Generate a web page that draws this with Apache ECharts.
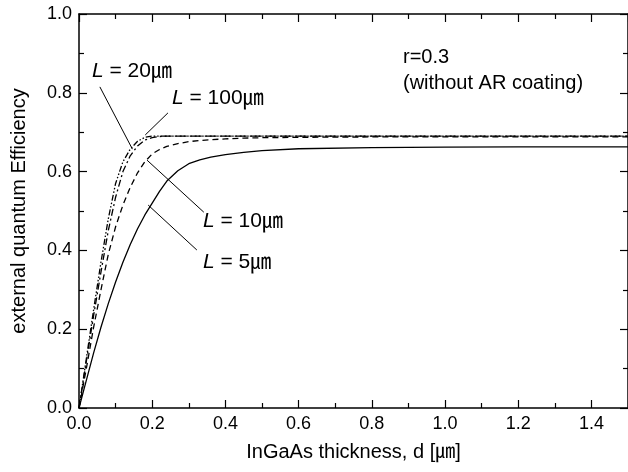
<!DOCTYPE html>
<html>
<head>
<meta charset="utf-8">
<script src="https://cdn.jsdelivr.net/npm/echarts@6/dist/echarts.min.js"></script>
<style>
  html, body { margin: 0; padding: 0; background: #fff; }
  #chart { width: 628px; height: 472px; }
</style>
</head>
<body>
<div id="chart"></div>
<script>
// InGaAs thickness [um]
var thickness = [0, 0.02, 0.04, 0.06, 0.08, 0.10, 0.12, 0.14, 0.16, 0.18, 0.20, 0.22, 0.24, 0.27, 0.30, 0.33, 0.36, 0.40, 0.45, 0.50, 0.60, 0.80, 1.00, 1.20, 1.50];
// external quantum efficiency for each diffusion length L
var effL5   = [0, 0.070, 0.140, 0.205, 0.265, 0.320, 0.370, 0.415, 0.455, 0.490, 0.520, 0.550, 0.576, 0.602, 0.620, 0.630, 0.637, 0.643, 0.649, 0.653, 0.658, 0.661, 0.662, 0.663, 0.663];
var effL10  = [0, 0.100, 0.205, 0.300, 0.390, 0.460, 0.515, 0.560, 0.597, 0.625, 0.645, 0.656, 0.664, 0.671, 0.676, 0.679, 0.681, 0.683, 0.685, 0.686, 0.687, 0.688, 0.688, 0.688, 0.688];
var effL20  = [0, 0.125, 0.250, 0.370, 0.480, 0.570, 0.625, 0.657, 0.677, 0.687, 0.690, 0.690, 0.690, 0.690, 0.690, 0.690, 0.690, 0.690, 0.690, 0.690, 0.690, 0.690, 0.690, 0.690, 0.690];
var effL100 = [0, 0.118, 0.235, 0.345, 0.450, 0.535, 0.600, 0.640, 0.665, 0.680, 0.686, 0.689, 0.690, 0.690, 0.690, 0.690, 0.690, 0.690, 0.690, 0.690, 0.690, 0.690, 0.690, 0.690, 0.690];

// arrows: [from, to] in data units
var arrowL20  = [[0.057, 0.815], [0.146, 0.657]];
var arrowL100 = [[0.243, 0.749], [0.181, 0.693]];
var arrowL10  = [[0.341, 0.497], [0.186, 0.629]];
var arrowL5   = [[0.322, 0.401], [0.189, 0.515]];

var FONT = "'Liberation Sans', Arial, 'Noto Sans CJK JP', sans-serif";

function pairs(xs, ys) {
  return xs.map(function (x, i) { return [x, ys[i]]; });
}

function curve(name, ys, dash) {
  return {
    name: name,
    type: "line",
    data: pairs(thickness, ys),
    showSymbol: false,
    lineStyle: { color: "#000", width: 1.3, type: dash },
    z: 3
  };
}

function arrow(a) {
  return [{ coord: a[0] }, { coord: a[1] }];
}

function label(txt, x, y) {
  return {
    type: "text",
    left: x,
    top: y,
    style: {
      rich: {
        i: { fontStyle: "italic", fontSize: 21, fontFamily: FONT, fill: "#000" },
        t: { fontSize: 21, fontFamily: FONT, fill: "#000" }
      },
      text: "{i|L}{t| = " + txt + "㎛}"
    }
  };
}

var chart = echarts.init(document.getElementById("chart"), null, { renderer: "canvas" });

var axisBase = {
  type: "value",
  axisLine: { show: true, onZero: false, lineStyle: { color: "#000", width: 1.5 } },
  axisTick: { show: true, inside: true, length: 8, lineStyle: { color: "#000", width: 1.2 } },
  minorTick: { show: true, splitNumber: 2, length: 5, lineStyle: { color: "#000", width: 1.2 } },
  splitLine: { show: false }
};

var opt = {
  animation: false,
  backgroundColor: "#fff",
  textStyle: { fontFamily: FONT },
  grid: { left: 79, right: -6, top: 14, bottom: 64 },
  xAxis: [
    Object.assign({}, axisBase, {
      position: "bottom",
      min: 0, max: 1.5, interval: 0.2,
      name: "InGaAs thickness, d [㎛]",
      nameLocation: "middle",
      nameGap: 34,
      nameTextStyle: { fontSize: 20, color: "#000", fontFamily: FONT },
      axisLabel: {
        fontSize: 18, color: "#000", margin: 7, fontFamily: FONT,
        showMaxLabel: false,
        formatter: function (v) { return v.toFixed(1); }
      }
    }),
    Object.assign({}, axisBase, {
      position: "top",
      min: 0, max: 1.5, interval: 0.2,
      axisLabel: { show: false }
    })
  ],
  yAxis: [
    Object.assign({}, axisBase, {
      position: "left",
      min: 0, max: 1.0, interval: 0.2,
      name: "external quantum Efficiency",
      nameLocation: "middle",
      nameGap: 50,
      nameTextStyle: { fontSize: 20, color: "#000", fontFamily: FONT },
      axisLabel: {
        fontSize: 18, color: "#000", margin: 7, fontFamily: FONT,
        formatter: function (v) { return v.toFixed(1); }
      }
    }),
    Object.assign({}, axisBase, {
      position: "right",
      min: 0, max: 1.0, interval: 0.2,
      axisLabel: { show: false }
    })
  ],
  series: [
    curve("L = 5", effL5, "solid"),
    curve("L = 10", effL10, [6, 4]),
    curve("L = 20", effL20, [6, 2, 1.5, 2, 1.5, 2]),
    curve("L = 100", effL100, [7, 3, 2, 3]),
    {
      type: "line",
      data: [],
      silent: true,
      markLine: {
        silent: true,
        symbol: ["none", "arrow"],
        symbolSize: [0, 9],
        label: { show: false },
        lineStyle: { color: "#000", width: 1, type: "solid" },
        emphasis: { disabled: true },
        data: [arrow(arrowL20), arrow(arrowL100), arrow(arrowL10), arrow(arrowL5)]
      }
    }
  ],
  graphic: [
    label("20", 92, 61),
    label("100", 172, 88),
    label("10", 203, 211),
    label("5", 203, 252),
    {
      type: "text", left: 403, top: 47,
      style: { text: "r=0.3", fontSize: 20, fontFamily: FONT, fill: "#000" }
    },
    {
      type: "text", left: 403, top: 73,
      style: { text: "(without AR coating)", fontSize: 20, fontFamily: FONT, fill: "#000" }
    }
  ]
};

chart.setOption(opt);
</script>
</body>
</html>
